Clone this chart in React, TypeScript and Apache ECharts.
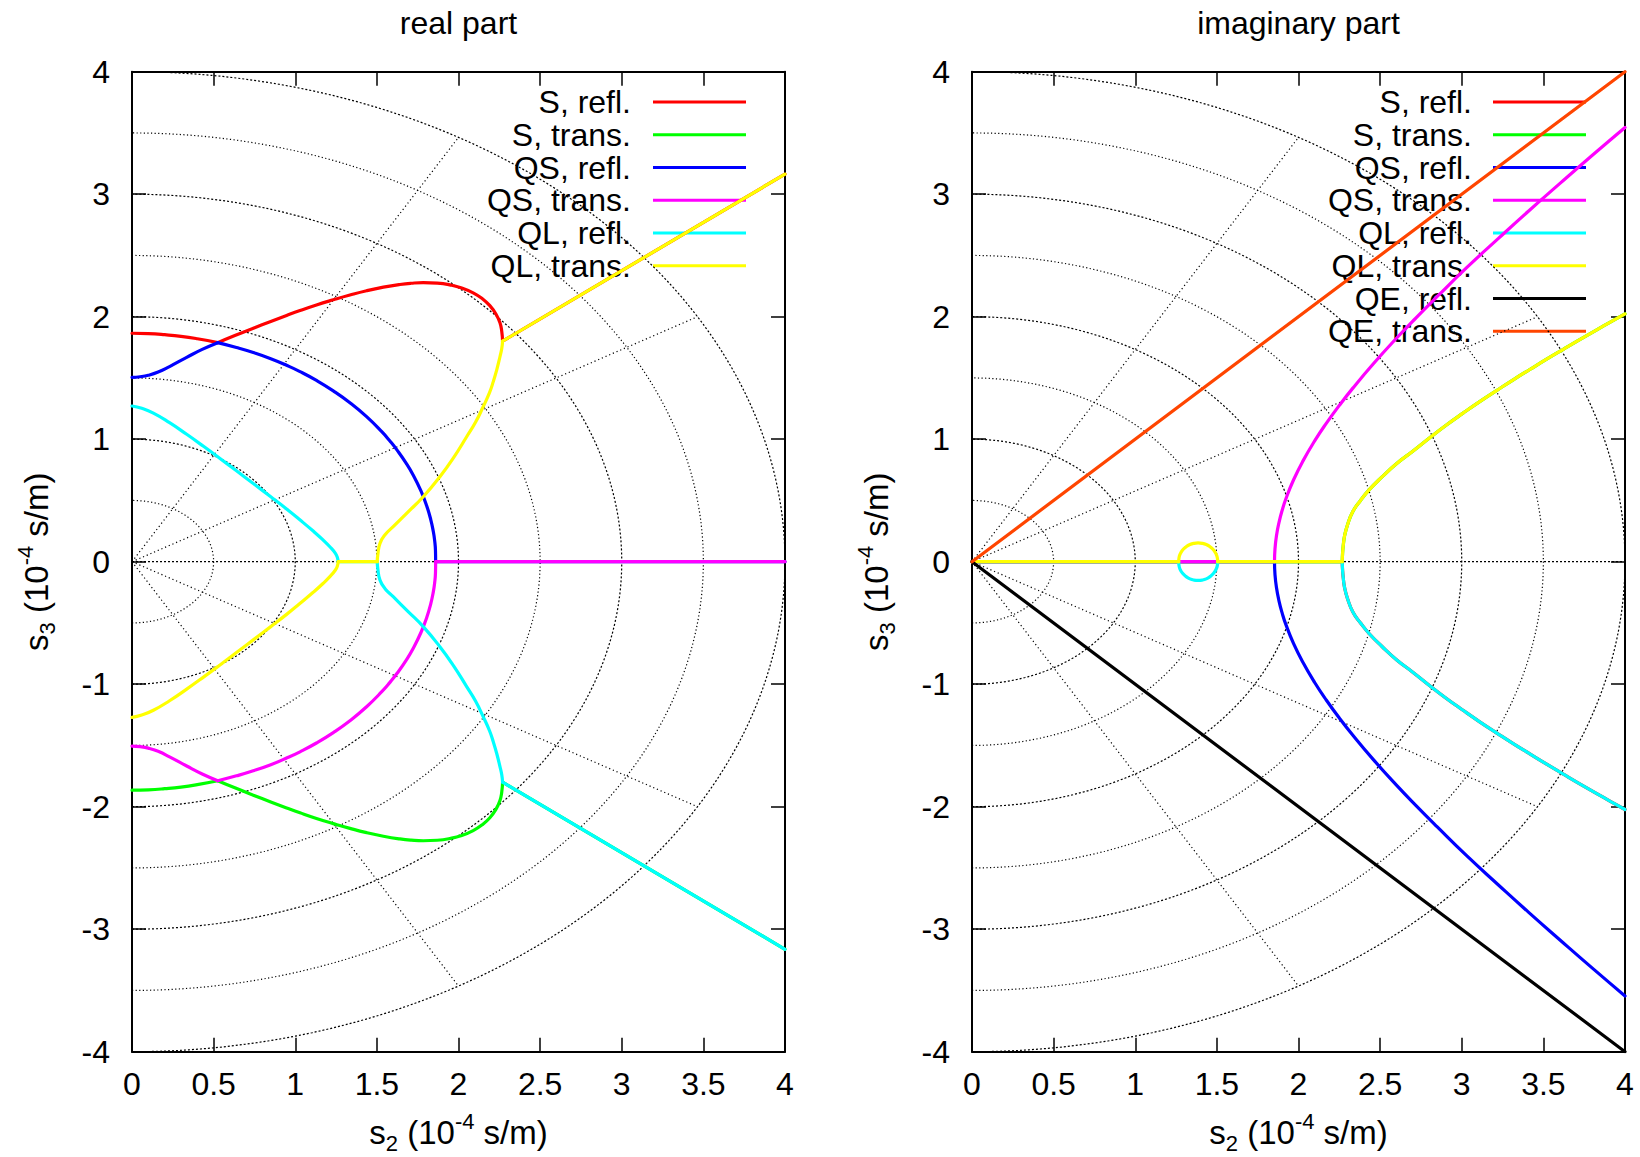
import React, { useEffect, useRef } from "react";
import * as echarts from "echarts";

const W = 1640;
const H = 1157;
const F = '"Liberation Sans", Arial, Helvetica, sans-serif';

// ---------- tick labels / axes ----------
const xTicks = [0, 0.5, 1, 1.5, 2, 2.5, 3, 3.5, 4];
const yTicks = [-4, -3, -2, -1, 0, 1, 2, 3, 4];
const panelTitles = ["real part", "imaginary part"];

// ---------- legend ----------
const legendRe = ["S, refl.", "S, trans.", "QS, refl.", "QS, trans.", "QL, refl.", "QL, trans."];
const legendIm = ["S, refl.", "S, trans.", "QS, refl.", "QS, trans.", "QL, refl.", "QL, trans.", "QE, refl.", "QE, trans."];
const colors = ["#ff0000", "#00ff00", "#0000ff", "#ff00ff", "#00ffff", "#ffff00", "#000000", "#ff4500"];

// ---------- real part (left panel) ----------
const reSReflA = [[0, 1.865], [0.1, 1.862], [0.2, 1.853], [0.3, 1.84], [0.4, 1.82], [0.525, 1.788]];
const reSReflB = [[0.525, 1.788], [0.63, 1.846], [0.743, 1.906], [0.85, 1.961], [0.947, 2.01], [1.029, 2.05], [1.13, 2.096], [1.233, 2.138], [1.335, 2.177], [1.437, 2.212], [1.54, 2.241], [1.641, 2.263], [1.71, 2.273], [1.784, 2.278], [1.87, 2.274], [1.947, 2.26], [2.02, 2.235], [2.09, 2.195], [2.145, 2.148], [2.192, 2.09], [2.23, 2.02], [2.254, 1.95], [2.265, 1.88], [2.27, 1.8]];
const reSReflC = [[2.27, 1.8], [4, 3.164]];

const reSTransA = [[0, -1.865], [0.1, -1.862], [0.2, -1.853], [0.3, -1.84], [0.4, -1.82], [0.525, -1.788]];
const reSTransB = [[0.525, -1.788], [0.63, -1.846], [0.743, -1.906], [0.85, -1.961], [0.947, -2.01], [1.029, -2.05], [1.13, -2.096], [1.233, -2.138], [1.335, -2.177], [1.437, -2.212], [1.54, -2.241], [1.641, -2.263], [1.71, -2.273], [1.784, -2.278], [1.87, -2.274], [1.947, -2.26], [2.02, -2.235], [2.09, -2.195], [2.145, -2.148], [2.192, -2.09], [2.23, -2.02], [2.254, -1.95], [2.265, -1.88], [2.27, -1.8]];
const reSTransC = [[2.27, -1.8], [4, -3.164]];

const reQSReflA = [[0, 1.505], [0.05, 1.51], [0.1, 1.522], [0.16, 1.548], [0.23, 1.593], [0.335, 1.668], [0.43, 1.733], [0.525, 1.788]];
const reQSReflB = [[0.525, 1.788], [0.64, 1.748], [0.743, 1.707], [0.85, 1.657], [0.947, 1.603], [1.029, 1.552], [1.13, 1.48], [1.233, 1.395], [1.337, 1.296], [1.437, 1.184], [1.53, 1.061], [1.58, 0.985], [1.625, 0.909], [1.68, 0.803], [1.723, 0.706], [1.77, 0.578], [1.805, 0.457], [1.83, 0.344], [1.846, 0.244], [1.854, 0.172], [1.859, 0.09], [1.86, 0]];
const reQSReflC = [[1.86, 0], [4, 0]];

const reQSTransA = [[0, -1.505], [0.05, -1.51], [0.1, -1.522], [0.16, -1.548], [0.23, -1.593], [0.335, -1.668], [0.43, -1.733], [0.525, -1.788]];
const reQSTransB = [[0.525, -1.788], [0.64, -1.748], [0.743, -1.707], [0.85, -1.657], [0.947, -1.603], [1.029, -1.552], [1.13, -1.48], [1.233, -1.395], [1.337, -1.296], [1.437, -1.184], [1.53, -1.061], [1.58, -0.985], [1.625, -0.909], [1.68, -0.803], [1.723, -0.706], [1.77, -0.578], [1.805, -0.457], [1.83, -0.344], [1.846, -0.244], [1.854, -0.172], [1.859, -0.09], [1.86, 0]];
const reQSTransC = [[1.86, 0], [4, 0]];

const reQLReflA = [[0, 1.271], [0.06, 1.252], [0.131, 1.213], [0.23, 1.135], [0.335, 1.04], [0.44, 0.94], [0.539, 0.843], [0.64, 0.742], [0.743, 0.638], [0.85, 0.53], [0.947, 0.43], [1.03, 0.34], [1.11, 0.25], [1.17, 0.178], [1.212, 0.122], [1.245, 0.07], [1.258, 0.035], [1.263, 0]];
const reQLReflB = [[1.263, 0], [1.502, 0]];
const reQLReflC = [[1.502, 0], [1.506, -0.06], [1.519, -0.15], [1.55, -0.22], [1.6, -0.286], [1.69, -0.405], [1.784, -0.53], [1.886, -0.694], [1.97, -0.85], [2.05, -1.02], [2.105, -1.14], [2.151, -1.265], [2.19, -1.38], [2.213, -1.47], [2.235, -1.57], [2.254, -1.673], [2.265, -1.74], [2.27, -1.8]];
const reQLReflD = [[2.27, -1.8], [4, -3.164]];

const reQLTransA = [[0, -1.271], [0.06, -1.252], [0.131, -1.213], [0.23, -1.135], [0.335, -1.04], [0.44, -0.94], [0.539, -0.843], [0.64, -0.742], [0.743, -0.638], [0.85, -0.53], [0.947, -0.43], [1.03, -0.34], [1.11, -0.25], [1.17, -0.178], [1.212, -0.122], [1.245, -0.07], [1.258, -0.035], [1.263, 0]];
const reQLTransB = [[1.263, 0], [1.502, 0]];
const reQLTransC = [[1.502, 0], [1.506, 0.06], [1.519, 0.15], [1.55, 0.22], [1.6, 0.286], [1.69, 0.405], [1.784, 0.53], [1.886, 0.694], [1.97, 0.85], [2.05, 1.02], [2.105, 1.14], [2.151, 1.265], [2.19, 1.38], [2.213, 1.47], [2.235, 1.57], [2.254, 1.673], [2.265, 1.74], [2.27, 1.8]];
const reQLTransD = [[2.27, 1.8], [4, 3.164]];

// ---------- imaginary part (right panel) ----------
const imSReflA = [[0, 0], [2.268, 0]];
const imSReflB = [[2.268, 0], [2.27, -0.07], [2.274, -0.13], [2.282, -0.21], [2.3, -0.3], [2.333, -0.41], [2.38, -0.5], [2.435, -0.59], [2.51, -0.69], [2.6, -0.8], [2.7, -0.902], [2.804, -1.012], [2.9, -1.11], [3.008, -1.213], [3.11, -1.307], [3.213, -1.397], [3.32, -1.489], [3.417, -1.569], [3.52, -1.653], [3.622, -1.734], [3.72, -1.811], [3.827, -1.893], [3.91, -1.956], [4, -2.023]];

const imSTransA = [[0, 0], [2.268, 0]];
const imSTransB = [[2.268, 0], [2.27, 0.07], [2.274, 0.13], [2.282, 0.21], [2.3, 0.3], [2.333, 0.41], [2.38, 0.5], [2.435, 0.59], [2.51, 0.69], [2.6, 0.8], [2.7, 0.902], [2.804, 1.012], [2.9, 1.11], [3.008, 1.213], [3.11, 1.307], [3.213, 1.397], [3.32, 1.489], [3.417, 1.569], [3.52, 1.653], [3.622, 1.734], [3.72, 1.811], [3.827, 1.893], [3.91, 1.956], [4, 2.023]];

const imQSReflA = [[0, 0], [1.853, 0]];
const imQSReflB = [[1.853, 0], [1.856, -0.105], [1.865, -0.211], [1.88, -0.317], [1.9, -0.42], [1.924, -0.518], [1.97, -0.669], [2.026, -0.819], [2.1, -0.988], [2.17, -1.129], [2.25, -1.276], [2.333, -1.417], [2.46, -1.618], [2.6, -1.824], [2.72, -1.991], [2.85, -2.165], [3.03, -2.4], [3.223, -2.637], [3.41, -2.863], [3.6, -3.086], [3.8, -3.318], [4, -3.545]];

const imQSTransA = [[0, 0], [1.853, 0]];
const imQSTransB = [[1.853, 0], [1.856, 0.105], [1.865, 0.211], [1.88, 0.317], [1.9, 0.42], [1.924, 0.518], [1.97, 0.669], [2.026, 0.819], [2.1, 0.988], [2.17, 1.129], [2.25, 1.276], [2.333, 1.417], [2.46, 1.618], [2.6, 1.824], [2.72, 1.991], [2.85, 2.165], [3.03, 2.4], [3.223, 2.637], [3.41, 2.863], [3.6, 3.086], [3.8, 3.318], [4, 3.545]];

const imQLReflA = [[0, 0], [1.266, 0]];
const imQLReflB = [[1.266, 0], [1.268, -0.03], [1.274, -0.06], [1.29, -0.095], [1.31, -0.12], [1.335, -0.14], [1.36, -0.15], [1.385, -0.153], [1.41, -0.15], [1.435, -0.14], [1.46, -0.12], [1.48, -0.095], [1.496, -0.06], [1.503, -0.03], [1.505, 0]];
const imQLReflC = [[1.505, 0], [2.268, 0]];
const imQLReflD = [[2.268, 0], [2.27, -0.07], [2.274, -0.13], [2.282, -0.21], [2.3, -0.3], [2.333, -0.41], [2.38, -0.5], [2.435, -0.59], [2.51, -0.69], [2.6, -0.8], [2.7, -0.902], [2.804, -1.012], [2.9, -1.11], [3.008, -1.213], [3.11, -1.307], [3.213, -1.397], [3.32, -1.489], [3.417, -1.569], [3.52, -1.653], [3.622, -1.734], [3.72, -1.811], [3.827, -1.893], [3.91, -1.956], [4, -2.023]];

const imQLTransA = [[0, 0], [1.266, 0]];
const imQLTransB = [[1.266, 0], [1.268, 0.03], [1.274, 0.06], [1.29, 0.095], [1.31, 0.12], [1.335, 0.14], [1.36, 0.15], [1.385, 0.153], [1.41, 0.15], [1.435, 0.14], [1.46, 0.12], [1.48, 0.095], [1.496, 0.06], [1.503, 0.03], [1.505, 0]];
const imQLTransC = [[1.505, 0], [2.268, 0]];
const imQLTransD = [[2.268, 0], [2.27, 0.07], [2.274, 0.13], [2.282, 0.21], [2.3, 0.3], [2.333, 0.41], [2.38, 0.5], [2.435, 0.59], [2.51, 0.69], [2.6, 0.8], [2.7, 0.902], [2.804, 1.012], [2.9, 1.11], [3.008, 1.213], [3.11, 1.307], [3.213, 1.397], [3.32, 1.489], [3.417, 1.569], [3.52, 1.653], [3.622, 1.734], [3.72, 1.811], [3.827, 1.893], [3.91, 1.956], [4, 2.023]];

const imQERefl = [[0, 0], [4, -4]];
const imQETrans = [[0, 0], [4, 4]];

// curves: [segments], each segment [points, smooth]
const realCurves = [
  [[reSReflA, true], [reSReflB, true], [reSReflC, false]],
  [[reSTransA, true], [reSTransB, true], [reSTransC, false]],
  [[reQSReflA, true], [reQSReflB, true], [reQSReflC, false]],
  [[reQSTransA, true], [reQSTransB, true], [reQSTransC, false]],
  [[reQLReflA, true], [reQLReflB, false], [reQLReflC, true], [reQLReflD, false]],
  [[reQLTransA, true], [reQLTransB, false], [reQLTransC, true], [reQLTransD, false]],
];
const imagCurves = [
  [[imSReflA, false], [imSReflB, true]],
  [[imSTransA, false], [imSTransB, true]],
  [[imQSReflA, false], [imQSReflB, true]],
  [[imQSTransA, false], [imQSTransB, true]],
  [[imQLReflA, false], [imQLReflB, true], [imQLReflC, false], [imQLReflD, true]],
  [[imQLTransA, false], [imQLTransB, true], [imQLTransC, false], [imQLTransD, true]],
  [[imQERefl, false]],
  [[imQETrans, false]],
];

// ---------- layout ----------
const panels = [
  { left: 132, width: 653, legendTextX: 631, legendLine: [653, 746] },
  { left: 972, width: 653, legendTextX: 1472, legendLine: [1493, 1586] },
];
const GRID_TOP = 71.7;
const GRID_H = 980;
const LEG_Y0 = 102;
const LEG_DY = 32.75;
const FS = 32;

function lineSeries(data: any, xi: number, style: any, smooth: boolean | number, z: number) {
  return {
    type: "line",
    xAxisIndex: xi,
    yAxisIndex: xi,
    data,
    symbol: "none",
    showSymbol: false,
    smooth,
    silent: true,
    z,
    emphasis: { disabled: true },
    lineStyle: style,
    animation: false,
  };
}

function polarGrid(xi: number) {
  const out: any[] = [];
  const major = { color: "#000", width: 1.2, type: [2, 2] };
  const minor = { color: "#000", width: 1.2, type: [1.2, 2.4] };
  for (let k = 1; k <= 8; k++) {
    const r = k * 0.5;
    const pts: number[][] = [];
    for (let a = -90; a <= 90; a += 1) {
      const t = (a * Math.PI) / 180;
      pts.push([r * Math.cos(t), r * Math.sin(t)]);
    }
    out.push(lineSeries(pts, xi, k % 2 === 0 ? major : minor, false, 1));
  }
  [-60, -30, 30, 60].forEach((a) => {
    const t = (a * Math.PI) / 180;
    out.push(lineSeries([[0, 0], [4 * Math.cos(t), 4 * Math.sin(t)]], xi, { color: "#000", width: 1.2, type: [1.2, 2.8] }, false, 1));
  });
  out.push(lineSeries([[0, 0], [4, 0]], xi, major, false, 1));
  return out;
}

function curveSeries(curves: any[], xi: number) {
  const out: any[] = [];
  curves.forEach((segs, ci) => {
    segs.forEach(([pts, sm]: any) => {
      out.push(lineSeries(pts, xi, { color: colors[ci], width: 3.2, type: "solid", cap: "round", join: "round" }, sm ? 0.5 : false, 3 + ci * 0.01));
    });
  });
  return out;
}

function axisPair(gi: number) {
  const common = {
    gridIndex: gi,
    type: "value",
    splitLine: { show: false },
    axisLine: { show: true, onZero: false, lineStyle: { color: "#000", width: 2 } },
    axisTick: { show: true, inside: true, length: 14, lineStyle: { color: "#000", width: 1.5 } },
  };
  const xs = [
    {
      ...common,
      position: "bottom",
      min: 0,
      max: 4,
      interval: 0.5,
      axisLabel: { show: true, fontSize: FS, fontFamily: F, color: "#000", margin: 16, formatter: (v: number) => String(xTicks.find((t) => Math.abs(t - v) < 1e-9) ?? v) },
    },
    { ...common, position: "top", min: 0, max: 4, interval: 0.5, axisLabel: { show: false } },
  ];
  const ys = [
    {
      ...common,
      position: "left",
      min: -4,
      max: 4,
      interval: 1,
      axisLabel: { show: true, fontSize: FS, fontFamily: F, color: "#000", margin: 22, formatter: (v: number) => String(yTicks.find((t) => Math.abs(t - v) < 1e-9) ?? v) },
    },
    { ...common, position: "right", min: -4, max: 4, interval: 1, axisLabel: { show: false } },
  ];
  return { xs, ys };
}

const richAxis = (sub: string) => ({
  text: `{m|s}{sub|${sub}}{m| (10}{sup|-4}{m| s/m)}`,
  rich: {
    m: { fontSize: 33, fontFamily: F, fill: "#000" },
    sub: { fontSize: 22, fontFamily: F, fill: "#000", padding: [22, 0, 0, 0] },
    sup: { fontSize: 22, fontFamily: F, fill: "#000", padding: [0, 0, 22, 0] },
  },
  align: "center",
  verticalAlign: "middle",
});

function buildOption() {
  const grids = panels.map((p) => ({ left: p.left, top: GRID_TOP, width: p.width, height: GRID_H, containLabel: false }));
  const a0 = axisPair(0);
  const a1 = axisPair(1);
  const xAxis = [a0.xs[0], a1.xs[0], a0.xs[1], a1.xs[1]];
  const yAxis = [a0.ys[0], a1.ys[0], a0.ys[1], a1.ys[1]];

  const series = [
    ...polarGrid(0),
    ...polarGrid(1),
    ...curveSeries(realCurves, 0),
    ...curveSeries(imagCurves, 1),
  ];

  const graphics: any[] = [];
  panels.forEach((p, pi) => {
    const cx = p.left + p.width / 2;
    graphics.push({
      type: "text",
      x: cx,
      y: 22.5,
      z: 5,
      style: { text: panelTitles[pi], fontSize: FS, fontFamily: F, fill: "#000", align: "center", verticalAlign: "middle" },
    });
    graphics.push({ type: "text", x: cx, y: 1132, z: 5, style: richAxis("2") });
    graphics.push({ type: "text", x: p.left - 96, y: GRID_TOP + GRID_H / 2, rotation: Math.PI / 2, z: 5, style: richAxis("3") });
    const names = pi === 0 ? legendRe : legendIm;
    names.forEach((n, i) => {
      const y = LEG_Y0 + i * LEG_DY;
      graphics.push({
        type: "text",
        x: p.legendTextX,
        y,
        z: 0,
        style: { text: n, fontSize: FS, fontFamily: F, fill: "#000", align: "right", verticalAlign: "middle" },
      });
      graphics.push({
        type: "line",
        z: 0,
        shape: { x1: p.legendLine[0], y1: y, x2: p.legendLine[1], y2: y },
        style: { stroke: colors[i], lineWidth: 3.2 },
      });
    });
  });

  return {
    animation: false,
    backgroundColor: "#ffffff",
    grid: grids,
    xAxis,
    yAxis,
    series,
    graphic: { elements: graphics },
  };
}

export default function App() {
  const ref = useRef<HTMLDivElement>(null);
  useEffect(() => {
    document.body.style.margin = "0";
    if (!ref.current) return;
    const chart = echarts.init(ref.current, null, { renderer: "svg", width: W, height: H });
    chart.setOption(buildOption() as any);
    return () => chart.dispose();
  }, []);
  return <div ref={ref} style={{ position: "absolute", left: 0, top: 0, width: W, height: H, background: "#fff" }} />;
}
